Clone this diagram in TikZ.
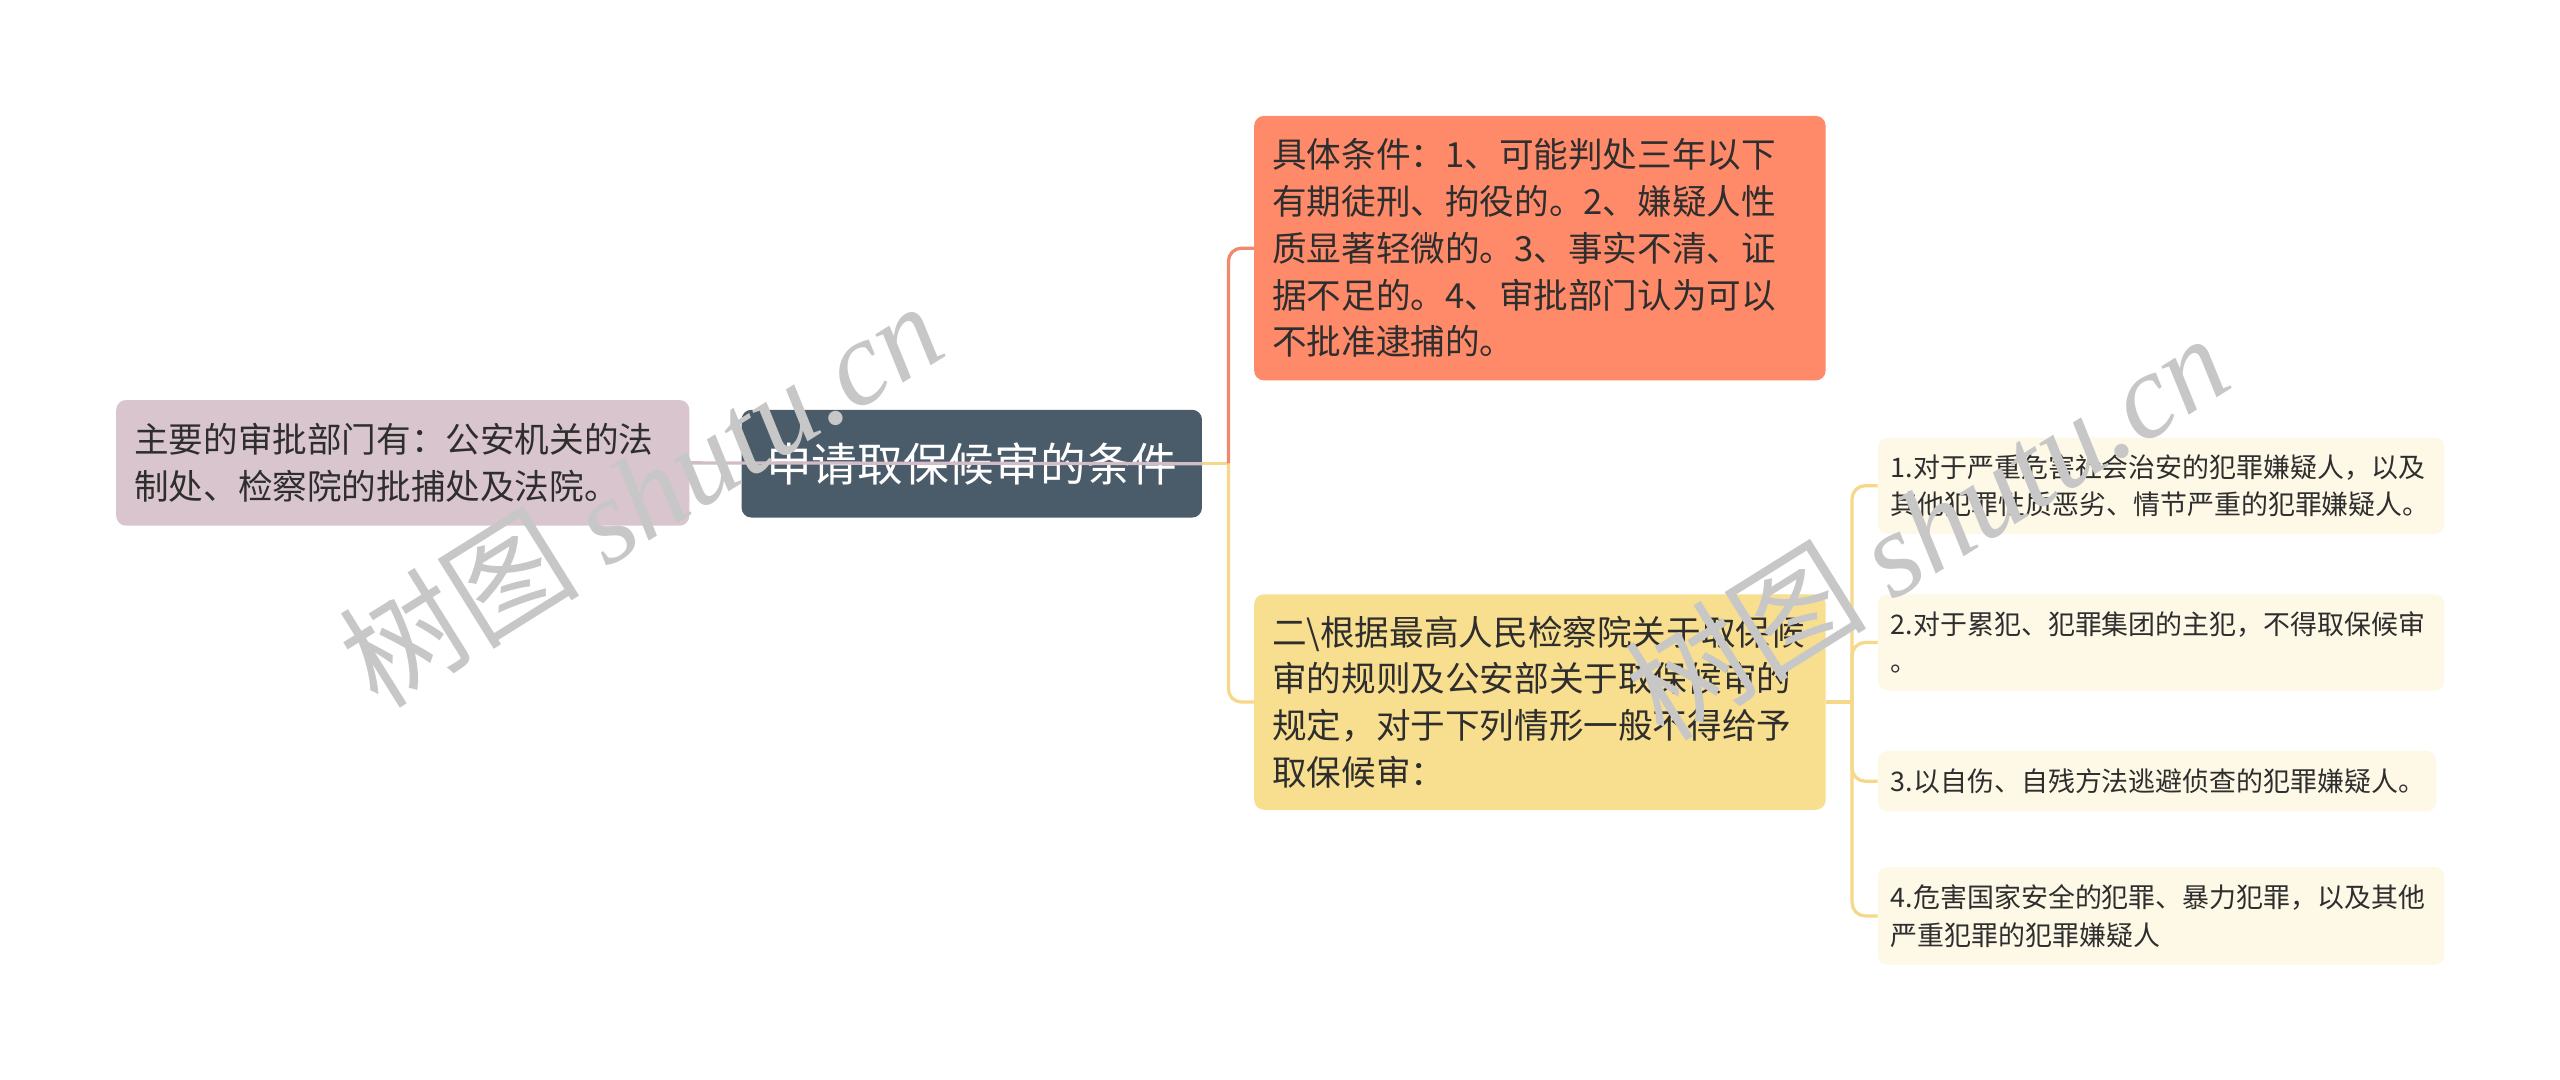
\documentclass[tikz,border=0pt]{standalone}
\usepackage{fontspec}
\setmainfont{Noto Sans CJK SC}
\newfontfamily\wmserif{Liberation Serif}
\definecolor{lilac}{HTML}{D9C5CE}
\definecolor{slate}{HTML}{4A5B6A}
\definecolor{salmon}{HTML}{FE8A6A}
\definecolor{sand}{HTML}{F8DE8F}
\definecolor{cream}{HTML}{FEF8E6}
\definecolor{txt}{HTML}{2E2E2E}
\definecolor{redline}{HTML}{F08A6C}
\definecolor{yelline}{HTML}{F5D88A}
\definecolor{lilline}{HTML}{D2BCC8}
\tikzset{
  box/.style={rounded corners=6pt, anchor=west, align=left, inner ysep=0pt, text=txt},
  bigbox/.style={box, inner xsep=11pt, font=\fontsize{21.2}{28.6}\selectfont},
  smallbox/.style={box, fill=cream, inner xsep=8pt, font=\fontsize{16.5}{23}\selectfont},
  conn/.style={line width=2pt, rounded corners=8pt},
  wmark/.style={rotate=32, text=black!22, font=\fontsize{74}{74}\selectfont}
}
\begin{document}
\begin{tikzpicture}[x=1pt,y=-1pt]
\fill[white] (0,0) rectangle (1568,660.9);
\useasboundingbox (0,0) rectangle (1568,660.9);
% nodes
\node[bigbox, fill=lilac, text width=329pt, minimum height=77pt] (left) at (71,283.5)
  {主要的审批部门有：公安机关的法\\制处、检察院的批捕处及法院。};
\node[rounded corners=6pt, fill=slate, text=white, minimum width=282pt, minimum height=66pt,
  inner sep=0pt, anchor=west, font=\fontsize{28}{30}\selectfont] (center) at (454,284)
  {申请取保候审的条件};
\node[bigbox, fill=salmon, text width=328pt, minimum height=162pt] (red) at (768,152)
  {具体条件：1、可能判处三年以下\\有期徒刑、拘役的。2、嫌疑人性\\质显著轻微的。3、事实不清、证\\据不足的。4、审批部门认为可以\\不批准逮捕的。};
\node[bigbox, fill=sand, text width=328pt, minimum height=132pt] (yel) at (768,430)
  {二\textbackslash 根据最高人民检察院关于取保候\\审的规则及公安部关于取保候审的\\规定，对于下列情形一般不得给予\\取保候审：};
\node[smallbox, text width=331pt, minimum height=59pt] (s1) at (1150,297.5)
  {1.对于严重危害社会治安的犯罪嫌疑人，以及\\其他犯罪性质恶劣、情节严重的犯罪嫌疑人。};
\node[smallbox, text width=331pt, minimum height=59pt] (s2) at (1150,393.5)
  {2.对于累犯、犯罪集团的主犯，不得取保候审\\。};
\node[smallbox, text width=326pt, minimum height=37pt] (s3) at (1150,478.5)
  {3.以自伤、自残方法逃避侦查的犯罪嫌疑人。};
\node[smallbox, text width=331pt, minimum height=60pt] (s4) at (1150,561)
  {4.危害国家安全的犯罪、暴力犯罪，以及其他\\严重犯罪的犯罪嫌疑人};
% connectors
\coordinate (j1) at ([xshift=16pt]center.east);
\coordinate (j2) at ([xshift=16pt]yel.east);
\draw[conn, yelline] (center.east) -- (j1);
\draw[conn, redline] (j1) |- (red.west);
\draw[conn, yelline] (j1) |- (yel.west);
\draw[conn, lilline] (left.east) -- (center.east);
\draw[conn, yelline] (yel.east) -- (j2);
\draw[conn, yelline] (j2) |- (s1.west);
\draw[conn, yelline] (j2) |- (s2.west);
\draw[conn, yelline] (j2) |- (s3.west);
\draw[conn, yelline] (j2) |- (s4.west);
% watermarks
\node[wmark] (w1) at (392,302) {树图 {\wmserif\itshape shutu.cn}};
\node[wmark] (w2) at (1180,322) {树图 {\wmserif\itshape shutu.cn}};
\end{tikzpicture}
\end{document}
